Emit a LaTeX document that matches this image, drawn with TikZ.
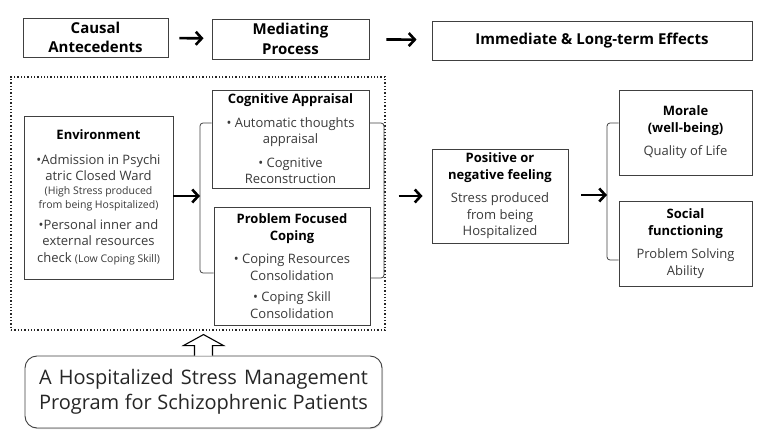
\documentclass[tikz,border=0pt]{standalone}
\usepackage{fontspec}
\setmainfont{Open Sans}
\usepackage{xcolor}
\usepackage{tikz}
\usetikzlibrary{arrows.meta}
\usetikzlibrary{shadows}

\definecolor{bodygray}{HTML}{3A3A3A}
\newcommand\headfont{\fontsize{15}{19.5}\selectfont\bfseries}
\newcommand\bodyfont{\fontsize{13}{16.5}\selectfont}
\newcommand\tinyfont{\fontsize{10.5}{13}\selectfont}
\newcommand\progfont{\fontsize{20}{25}\selectfont}
\newcommand\boxtitle[1]{{\bfseries\color{black}#1}}

\tikzset{
 head/.style={rectangle, draw=black!75, line width=0.9pt, fill=white, align=center, inner sep=0pt, font=\headfont,
   drop shadow={shadow xshift=1pt, shadow yshift=-1pt, opacity=0.3}},
 box/.style={rectangle, draw=black!75, line width=0.9pt, fill=white, align=center, inner sep=0pt, font=\bodyfont, text=bodygray,
   drop shadow={shadow xshift=1pt, shadow yshift=-1pt, opacity=0.3}},
 dotbox/.style={rectangle, draw=black!85, dotted, line width=1.3pt, inner sep=0pt},
 arr/.style={-{Straight Barb[length=6pt, width=13pt]}, line width=2.6pt},
 brk/.style={rounded corners=3pt, line width=0.8pt, draw=black!75},
 hollow/.style={line width=1.1pt, fill=white, line join=miter}
}

\begin{document}
\begin{tikzpicture}[x=1pt, y=-1pt]
 \useasboundingbox (0,0) rectangle (763,441);

 % top row
 \node [head, minimum width=145, minimum height=39] (causal) at (95.5, 37.5) {Causal\\Antecedents};
 \node [head, minimum width=157, minimum height=40] (mediate) at (290.5, 39) {Mediating\\Process};
 \node [head, minimum width=320, minimum height=39] (effects) at (592, 40.5) {Immediate \& Long-term Effects};
 \draw [arr, shorten <=11pt, shorten >=8pt] (causal) to (mediate);
 \draw [arr, shorten <=17pt, shorten >=15pt] (mediate) to (effects);

 % programme frame
 \node [dotbox, minimum width=374, minimum height=253] (frame) at (198, 203.5) {};

 \node [box, minimum width=149, minimum height=163] (env) at (98.5, 197.5)
  {\boxtitle{Environment}\\[8pt]
   •Admission in Psychi\\
   atric Closed Ward\\[-3pt]
   {\tinyfont (High Stress produced}\\[-2pt]
   {\tinyfont from being Hospitalized)}\\[4pt]
   •Personal inner and\\
   external resources\\
   check {\tinyfont (Low Coping Skill)}};
 \node [box, minimum width=157, minimum height=98] (cog) at (290.5, 139)
  {\boxtitle{Cognitive Appraisal}\\[7pt]
   • Automatic thoughts\\
   appraisal\\[7pt]
   • Cognitive\\
   Reconstruction};
 \node [box, minimum width=156, minimum height=118] (prob) at (292, 266)
  {\boxtitle{Problem Focused}\\
   \boxtitle{Coping}\\[7pt]
   • Coping Resources\\
   Consolidation\\[5pt]
   • Coping Skill\\
   Consolidation};

 % brackets round the mediating boxes
 \coordinate (lbrk) at (200, 196);
 \coordinate (rbrk) at (384, 196);
 \draw [brk] ([yshift=16pt]cog.west) -| (lbrk) |- ([yshift=-7pt]prob.west);
 \draw [brk] ([yshift=16pt]cog.east) -| (rbrk) |- ([yshift=-12pt]prob.east);
 \draw [arr] (env.east |- lbrk) to (lbrk);

 % effects
 \node [box, minimum width=136, minimum height=94] (feel) at (500, 196)
  {\boxtitle{Positive or}\\
   \boxtitle{negative feeling}\\[7pt]
   Stress produced\\
   from being\\
   Hospitalized};
 \node [box, minimum width=133, minimum height=85] (morale) at (685.5, 132.5)
  {\boxtitle{Morale}\\
   \boxtitle{(well-being)}\\[7pt]
   Quality of Life};
 \node [box, minimum width=133, minimum height=85] (social) at (685.5, 243.5)
  {\boxtitle{Social}\\
   \boxtitle{functioning}\\[7pt]
   Problem Solving\\
   Ability};
 \coordinate (ebrk) at (607, 195);
 \draw [brk] ([yshift=9.5pt]morale.west) -| (ebrk) |- ([yshift=-16.5pt]social.west);
 \draw [arr, shorten <=13pt, shorten >=9pt] (feel.west -| frame.east) to (feel.west);
 \draw [arr, shorten <=13pt] (feel.east |- ebrk) to (ebrk);

 % programme
 \node [box, rounded corners=12pt, minimum width=357, minimum height=72, font=\progfont, text=black!85] (prog) at (203.5, 392)
  {\makebox[329pt][s]{A Hospitalized Stress Management}\\
   \makebox[329pt][s]{Program for Schizophrenic Patients}};
 \draw [hollow] ([xshift=-9pt]prog.north) -- ++(0,-10) -- ++(-11,0) -- ++(20,-11) -- ++(20,11) -- ++(-11,0) -- ++(0,10);
\end{tikzpicture}
\end{document}
